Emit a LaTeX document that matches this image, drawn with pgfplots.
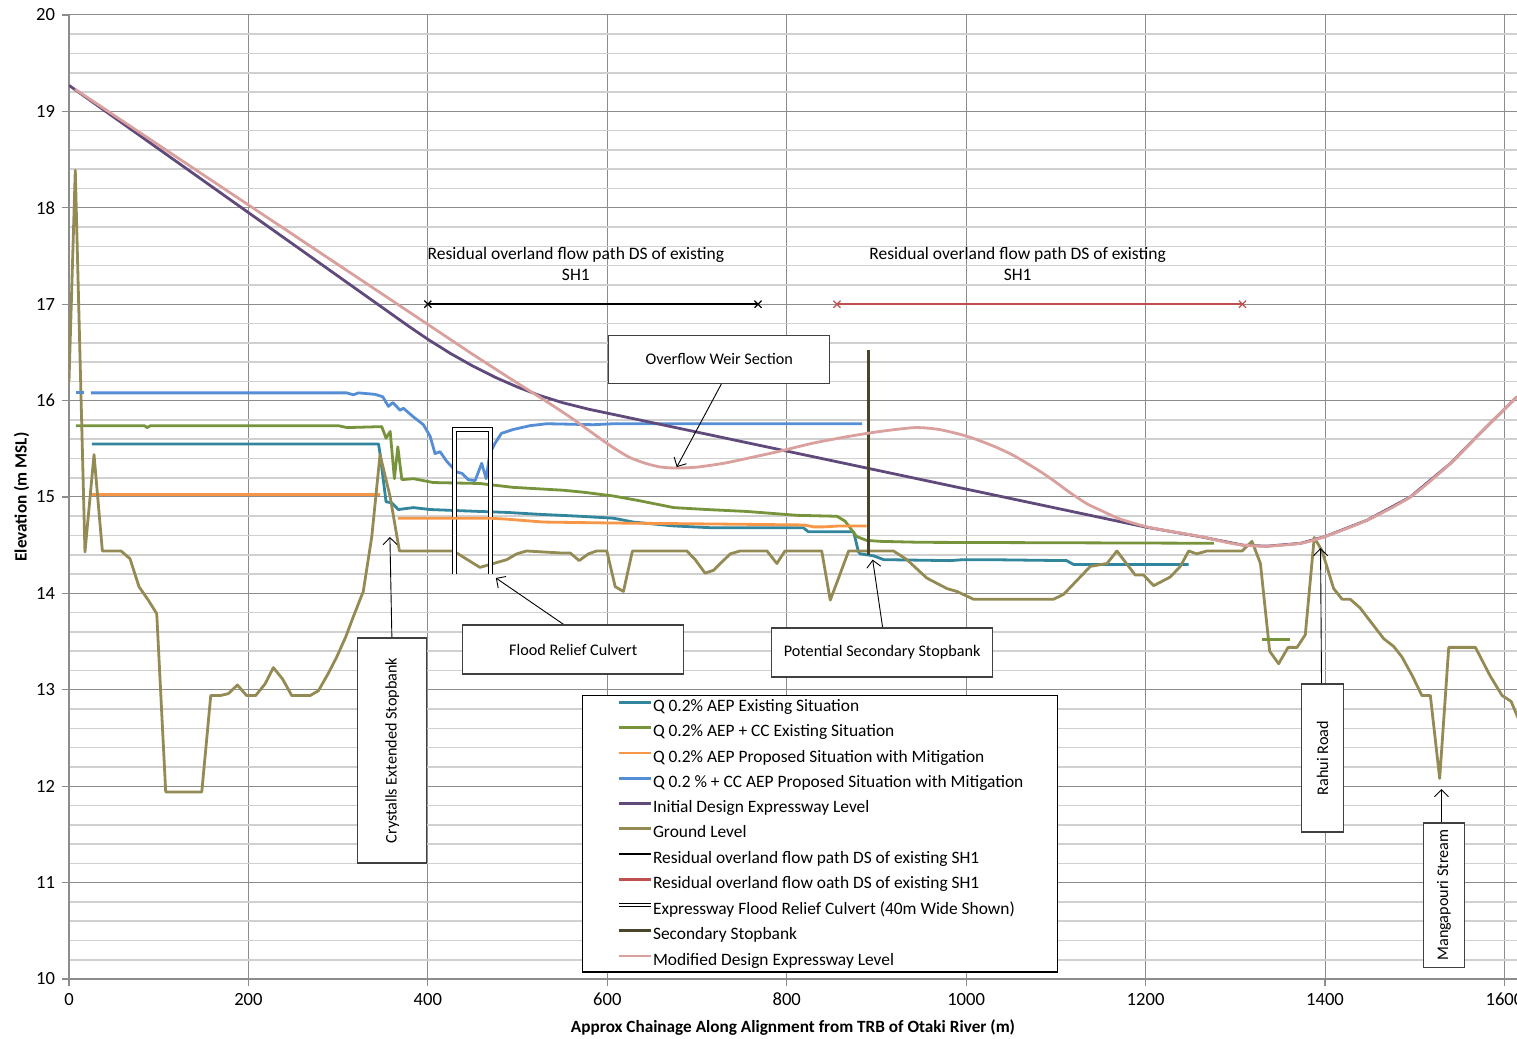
\documentclass[border=0pt]{standalone}
\usepackage{fontspec}
\setmainfont{Carlito}
\usepackage{pgfplots}
\pgfplotsset{compat=1.18}
\usetikzlibrary{arrows.meta}
\definecolor{cteal}{RGB}{49,133,156}
\definecolor{cgreen}{RGB}{119,147,60}
\definecolor{corange}{RGB}{247,150,70}
\definecolor{cblue}{RGB}{85,142,213}
\definecolor{cpurple}{RGB}{96,74,123}
\definecolor{cground}{RGB}{148,138,84}
\definecolor{cred}{RGB}{192,80,77}
\definecolor{cstop}{RGB}{74,69,42}
\definecolor{cpink}{RGB}{217,160,158}
\definecolor{gmaj}{RGB}{140,140,140}
\definecolor{gmin}{RGB}{208,208,208}
\begin{document}
\begin{tikzpicture}
\begin{axis}[
  scale only axis, width=724pt, height=482pt,
  xmin=0, xmax=1614, ymin=10, ymax=20,
  xtick={0,200,...,1600}, ytick={10,11,...,20},
  minor y tick num=4,
  grid=both,
  major grid style={color=gmaj, line width=0.5pt},
  minor grid style={color=gmin, line width=0.8pt},
  axis lines*=left,
  axis line style={color=gmaj, line width=0.6pt},
  major tick length=3.5pt, minor tick length=0pt, tick align=outside,
  tick style={color=gmaj, line width=0.6pt},
  tick label style={font=\fontsize{9.3}{11}\selectfont},
  /pgf/number format/assume math mode=true,
  /pgf/number format/set thousands separator={},
  xlabel={Approx Chainage Along Alignment from TRB of Otaki River (m)},
  ylabel={Elevation (m MSL)},
  label style={font=\bfseries\fontsize{8.6}{10}\selectfont},
  ylabel style={yshift=-3.5pt},
  every axis plot/.append style={line width=1.4pt, line join=round},
  legend image code/.code={\draw[#1] (0pt,2.3pt) -- (16pt,2.3pt);},
  legend cell align=left,
  legend style={at={(axis cs:571.6,12.946)}, anchor=north west, draw=black, line width=0.6pt,
    fill=white, font=\fontsize{8.7}{10}\selectfont, inner xsep=17pt, inner ysep=2pt,
    row sep=5.1pt, nodes={inner sep=0pt}},
]
\coordinate (BL) at (rel axis cs:0,0);
\coordinate (TR) at (rel axis cs:1,1);

% Q 0.2% AEP Existing
\addplot[color=cteal] coordinates {(25.6,15.55)(345,15.55)(346.7,15.45)(353.4,14.95)(359.8,14.94)(367,14.87)(384,14.89)(402.5,14.87)(458,14.85)(488,14.84)(525,14.82)(570,14.80)(607,14.78)(629,14.74)(674,14.70)(718,14.68)(818.7,14.68)(824,14.64)(874.5,14.64)(880,14.43)(882,14.41)(896.8,14.39)(908,14.35)(982,14.34)(997,14.35)(1023,14.35)(1112,14.34)(1119.7,14.30)(1248,14.30)};
\addlegendentry{Q 0.2\% AEP Existing Situation}
% Q 0.2% AEP + CC Existing
\addplot[color=cgreen] coordinates {(7.8,15.74)(84,15.74)(87,15.72)(91,15.74)(300,15.74)(310,15.72)(348.6,15.73)(353.4,15.61)(358,15.68)(362.7,15.19)(366.5,15.52)(371,15.18)(384,15.19)(406,15.15)(458,15.14)(495,15.10)(551,15.07)(573,15.05)(607,15.01)(636.6,14.96)(674,14.89)(711,14.87)(755.6,14.85)(811.4,14.81)(856,14.80)(865,14.75)(878,14.59)(889,14.55)(904,14.54)(949,14.53)(1276,14.52)};
\addlegendentry{Q 0.2\% AEP + CC Existing Situation}
% Q 0.2% AEP Proposed
\addplot[color=corange] coordinates {(24.5,15.03)(346.7,15.03)};
\addlegendentry{Q 0.2\% AEP Proposed Situation with Mitigation}
% Q 0.2 % + CC AEP Proposed
\addplot[color=cblue] coordinates {(24.5,16.08)(309.6,16.08)(317,16.06)(322.6,16.08)(341,16.065)(349.7,16.04)(356,15.94)(361,15.98)(369,15.90)(372.8,15.92)(384,15.83)(395,15.75)(402.5,15.63)(408,15.45)(413.6,15.47)(421,15.37)(432,15.26)(438,15.245)(445,15.18)(452.7,15.17)(460,15.35)(465,15.19)(469,15.45)(475,15.56)(482,15.66)(495,15.70)(514,15.74)(532.6,15.76)(584.6,15.75)(607,15.76)(884,15.76)};
\addlegendentry{Q 0.2 \% + CC AEP Proposed Situation with Mitigation}
% Initial design
\addplot[color=cpurple] coordinates {(0,19.27)(379,16.769)(400,16.636)(425,16.490)(450,16.359)(475,16.242)(500,16.14)(525,16.052)(550,15.979)(579,15.911)(600,15.87)(700,15.673)(800,15.476)(900,15.279)(1000,15.082)(1100,14.885)(1200,14.688)(1260,14.59)(1309,14.50)(1335,14.49)(1373,14.52)(1400,14.59)(1447,14.76)(1495,15.0)(1540,15.35)(1577,15.70)(1614,16.04)};
\addlegendentry{Initial Design Expressway Level}
% Ground level
\addplot[color=cground] coordinates {(0,16.2)(7,18.39)(17.8,14.43)(27.9,15.44)(37.2,14.44)(58,14.44)(68,14.36)(78,14.07)(88.4,13.93)(97.8,13.79)(107.8,11.94)(148,11.94)(158,12.94)(168.4,12.94)(177.6,12.96)(187.7,13.05)(198,12.94)(208,12.94)(218.5,13.06)(227.8,13.23)(238.2,13.11)(248.3,12.94)(268.7,12.94)(278,12.99)(289,13.17)(298.4,13.34)(308.5,13.55)(317,13.76)(328,14.02)(337.5,14.59)(346.7,15.44)(358,15.0)(368.3,14.44)(428.5,14.44)(458,14.27)(488,14.35)(499,14.41)(510,14.44)(547,14.42)(558.6,14.42)(568.6,14.34)(579,14.41)(588,14.44)(599.5,14.44)(608.8,14.07)(618,14.02)(628,14.44)(688.7,14.44)(698,14.35)(709,14.21)(718.4,14.24)(737,14.41)(748,14.44)(778,14.44)(789,14.31)(798,14.44)(839,14.44)(848.5,13.93)(857.8,14.16)(869,14.44)(919,14.44)(934,14.35)(956,14.16)(978.6,14.05)(989.7,14.02)(1008,13.94)(1097.5,13.94)(1108.6,13.99)(1138.4,14.28)(1157,14.31)(1168,14.44)(1188.5,14.19)(1197.8,14.19)(1209,14.08)(1227.5,14.17)(1238.7,14.28)(1248,14.44)(1257,14.41)(1268.4,14.44)(1307.5,14.44)(1318.6,14.54)(1328,14.31)(1338.3,13.40)(1348.3,13.27)(1358.8,13.44)(1368.8,13.44)(1378,13.57)(1388,14.58)(1396.7,14.44)(1409.6,14.05)(1419,13.94)(1428,13.94)(1439,13.85)(1465.4,13.53)(1476.5,13.45)(1485.8,13.34)(1497,13.15)(1508,12.94)(1517.4,12.94)(1527.8,12.08)(1537.9,13.44)(1567.6,13.44)(1584.3,13.14)(1597.4,12.94)(1607.4,12.88)(1620,12.6)};
\addlegendentry{Ground Level}
% Residual overland flow path (black)
\addplot[color=black, line width=1.2pt, mark=x, mark size=2.5pt, mark options={line width=0.6pt}] coordinates {(400,17)(768,17)};
\addlegendentry{Residual overland flow path DS of existing SH1}
% Residual overland flow oath (red)
\addplot[color=cred, line width=1.2pt, mark=x, mark size=2.5pt, mark options={line width=0.6pt}] coordinates {(856,17)(1308,17)};
\addlegendentry{Residual overland flow oath DS of existing SH1}
% Culvert
\addplot[draw=black, line width=0.5pt, double=white, double distance=1.3pt, line join=miter] coordinates {(430,14.2)(430,15.7)(470,15.7)(470,14.2)};
\addlegendentry{Expressway Flood Relief Culvert (40m Wide Shown)}
% Secondary stopbank
\addplot[color=cstop] coordinates {(891,14.40)(891,16.52)};
\addlegendentry{Secondary Stopbank}
% Modified design
\addplot[color=cpink, smooth, tension=0.4] coordinates {(6.7,19.23)(100,18.65)(200,18.03)(300,17.41)(400,16.79)(450,16.48)(500,16.18)(529,16.01)(560,15.82)(590,15.62)(607,15.51)(625,15.41)(644,15.345)(660,15.31)(677.5,15.30)(700,15.31)(730,15.35)(755.6,15.40)(790,15.47)(830,15.56)(870,15.63)(904,15.68)(943,15.72)(970,15.70)(1001,15.63)(1030,15.53)(1053,15.43)(1080,15.28)(1097.5,15.17)(1115,15.05)(1134.6,14.93)(1155,14.84)(1172,14.77)(1201.6,14.69)(1230,14.64)(1261,14.59)(1290,14.53)(1309,14.50)(1335,14.49)(1373,14.52)(1400,14.59)(1447,14.76)(1495,15.0)(1540,15.35)(1577,15.70)(1614,16.04)};
\addlegendentry{Modified Design Expressway Level}

% extra segments (gaps in series)
\addplot[color=cgreen, forget plot] coordinates {(1330,13.52)(1361,13.52)};
\addplot[color=corange, forget plot] coordinates {(366.5,14.78)(469,14.78)(488,14.77)(529,14.74)(607,14.73)(718,14.72)(819,14.71)(830,14.69)(841,14.69)(860,14.70)(889,14.70)};
\addplot[color=cblue, forget plot] coordinates {(7.8,16.08)(16.7,16.08)};

% annotations
\node[align=center, font=\fontsize{8.75}{10.5}\selectfont] at (axis cs:565,17.42) {Residual overland flow path DS of existing\\SH1};
\node[align=center, font=\fontsize{8.75}{10.5}\selectfont] at (axis cs:1057.4,17.42) {Residual overland flow path DS of existing\\SH1};
\begin{scope}[font=\fontsize{8.1}{10}\selectfont]
\draw[black, line width=0.45pt, -{Straight Barb[length=3.5pt,width=7pt]}] (axis cs:727.6,16.18) -- (axis cs:677.4,15.31);
\draw[black, line width=0.45pt, -{Straight Barb[length=3.5pt,width=7pt]}] (axis cs:552.6,13.67) -- (axis cs:475.8,14.16);
\draw[black, line width=0.45pt, -{Straight Barb[length=3.5pt,width=7pt]}] (axis cs:907,13.64) -- (axis cs:895.8,14.35);
\draw[black, line width=0.45pt, -{Straight Barb[length=3.5pt,width=7pt]}] (axis cs:359.9,13.54) -- (axis cs:357.7,14.585);
\draw[black, line width=0.45pt, -{Straight Barb[length=3.5pt,width=7pt]}] (axis cs:1396.1,13.06) -- (axis cs:1395,14.47);
\draw[black, line width=0.45pt, -{Straight Barb[length=3.5pt,width=7pt]}] (axis cs:1529.8,11.61) -- (axis cs:1529.8,11.97);
\node[draw=black!75, line width=0.6pt, fill=white, minimum width=110.5pt, minimum height=24pt] at (axis cs:724.8,16.43) {Overflow Weir Section};
\node[draw=black!75, line width=0.6pt, fill=white, minimum width=110.5pt, minimum height=24.5pt] at (axis cs:562.1,13.418) {Flood Relief Culvert};
\node[draw=black!75, line width=0.6pt, fill=white, minimum width=110.5pt, minimum height=24.5pt] at (axis cs:906.4,13.387) {Potential Secondary Stopbank};
\node[draw=black!75, line width=0.6pt, fill=white, minimum width=112.5pt, minimum height=34.5pt, rotate=90] at (axis cs:360.4,12.37) {Crystalls Extended Stopbank};
\node[draw=black!75, line width=0.6pt, fill=white, minimum width=74pt, minimum height=21pt, rotate=90] at (axis cs:1397.2,12.293) {Rahui Road};
\node[draw=black!75, line width=0.6pt, fill=white, minimum width=71pt, minimum height=20.5pt, rotate=90] at (axis cs:1532.6,10.871) {Mangapouri Stream};
\end{scope}
\end{axis}
\pgfresetboundingbox
\path[use as bounding box] ([xshift=-34.5pt,yshift=-29.5pt]BL) rectangle ([yshift=7.5pt]TR);
\end{tikzpicture}
\end{document}
